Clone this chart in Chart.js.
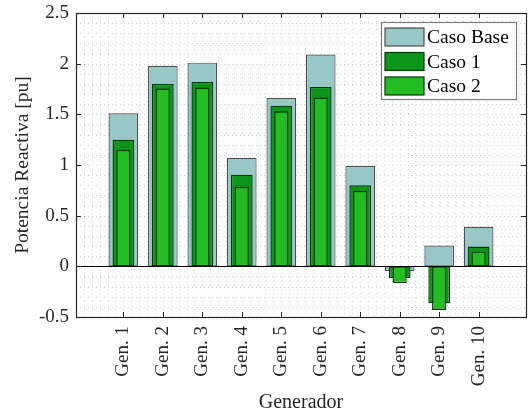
<!DOCTYPE html>
<html>
<head>
<meta charset="utf-8">
<title>Potencia Reactiva por Generador</title>
<script src="https://cdn.jsdelivr.net/npm/chart.js@4.4.1/dist/chart.umd.min.js"></script>
<style>
  html, body { margin: 0; padding: 0; background: #ffffff; }
  #wrap { width: 529px; height: 415px; }
</style>
</head>
<body>
<div id="wrap"><canvas id="chart" width="529" height="415"></canvas></div>
<script>
// Reactive power per generator [pu]
const generators = ['Gen. 1', 'Gen. 2', 'Gen. 3', 'Gen. 4', 'Gen. 5', 'Gen. 6', 'Gen. 7', 'Gen. 8', 'Gen. 9', 'Gen. 10'];
const casoBase = [1.51, 1.98, 2.01, 1.07, 1.66, 2.09, 0.99, -0.045, 0.205, 0.39];
const caso1    = [1.25, 1.80, 1.82, 0.905, 1.585, 1.77, 0.80, -0.115, -0.365, 0.195];
const caso2    = [1.15, 1.755, 1.765, 0.785, 1.53, 1.665, 0.745, -0.165, -0.43, 0.145];
const yTicks   = [-0.5, 0, 0.5, 1, 1.5, 2, 2.5];
const seriesNames = ['Caso Base', 'Caso 1', 'Caso 2'];

const SERIF = "'Liberation Serif', 'Times New Roman', serif";
const AXIS_COLOR = '#262626';

const toPoints = vals => vals.map((v, i) => ({ x: i + 1, y: v }));

// Axes box, dotted minor grid, inward ticks, zero baseline and the boxed legend
const framePlugin = {
  id: 'frame',
  beforeDatasetsDraw(chart) {
    const { ctx, chartArea: a, scales: { x, y } } = chart;
    ctx.save();
    ctx.beginPath();
    ctx.rect(a.left, a.top, a.right - a.left, a.bottom - a.top);
    ctx.clip();
    ctx.strokeStyle = '#cfcfcf';
    ctx.lineWidth = 1;
    ctx.setLineDash([1, 3]);
    for (let k = Math.ceil(y.min * 10 - 1e-6); k <= Math.floor(y.max * 10 + 1e-6); k++) {
      const py = Math.round(y.getPixelForValue(k / 10)) + 0.5;
      ctx.beginPath(); ctx.moveTo(a.left, py); ctx.lineTo(a.right, py); ctx.stroke();
    }
    for (let k = Math.ceil(x.min * 5 - 1e-6); k <= Math.floor(x.max * 5 + 1e-6); k++) {
      const px = Math.round(x.getPixelForValue(k / 5)) + 0.5;
      ctx.beginPath(); ctx.moveTo(px, a.top); ctx.lineTo(px, a.bottom); ctx.stroke();
    }
    ctx.restore();
  },
  afterDatasetsDraw(chart) {
    const { ctx, chartArea: a, scales: { x, y } } = chart;
    ctx.save();
    // bar baseline at zero
    const y0 = Math.round(y.getPixelForValue(0)) + 0.5;
    ctx.strokeStyle = '#000000';
    ctx.lineWidth = 1;
    ctx.beginPath(); ctx.moveTo(a.left, y0); ctx.lineTo(a.right, y0); ctx.stroke();

    // inward tick marks on all four sides
    const tl = 5;
    ctx.strokeStyle = AXIS_COLOR;
    yTicks.forEach(v => {
      const py = Math.round(y.getPixelForValue(v)) + 0.5;
      ctx.beginPath();
      ctx.moveTo(a.left, py); ctx.lineTo(a.left + tl, py);
      ctx.moveTo(a.right, py); ctx.lineTo(a.right - tl, py);
      ctx.stroke();
    });
    generators.forEach((g, i) => {
      const px = Math.round(x.getPixelForValue(i + 1)) + 0.5;
      ctx.beginPath();
      ctx.moveTo(px, a.bottom); ctx.lineTo(px, a.bottom - tl);
      ctx.moveTo(px, a.top); ctx.lineTo(px, a.top + tl);
      ctx.stroke();
    });

    // axes box
    ctx.lineWidth = 1.2;
    ctx.strokeRect(Math.round(a.left) + 0.5, Math.round(a.top) + 0.5,
                   Math.round(a.right - a.left), Math.round(a.bottom - a.top));
    ctx.restore();
  },
  afterDraw(chart) {
    const { ctx, chartArea: a } = chart;
    const ds = chart.data.datasets;
    const boxW = 135, boxH = 77;
    const bx = a.right - 10 - boxW + 0.5, by = a.top + 9.5;
    ctx.save();
    ctx.fillStyle = '#ffffff';
    ctx.fillRect(bx, by, boxW, boxH);
    ctx.strokeStyle = '#7a7a7a';
    ctx.lineWidth = 1.2;
    ctx.strokeRect(bx, by, boxW, boxH);
    ctx.font = '19.5px ' + SERIF;
    ctx.textBaseline = 'middle';
    ctx.textAlign = 'left';
    seriesNames.forEach((name, i) => {
      const d = ds[i];
      const cy = by + 14.5 + i * 24.5;
      ctx.fillStyle = d.backgroundColor;
      ctx.fillRect(bx + 3.5, cy - 9, 39, 18);
      ctx.strokeStyle = d.borderColor;
      ctx.lineWidth = 1.2;
      ctx.strokeRect(bx + 3.5, cy - 9, 39, 18);
      ctx.fillStyle = '#000000';
      ctx.fillText(name, bx + 45.5, cy + 1);
    });
    ctx.restore();
  }
};

new Chart(document.getElementById('chart'), {
  type: 'bar',
  data: {
    datasets: [
      { label: seriesNames[0], data: toPoints(casoBase), backgroundColor: '#97c8c7', borderColor: '#4d4d4d',
        borderWidth: 1.2, barPercentage: 0.75, order: 3 },
      { label: seriesNames[1], data: toPoints(caso1), backgroundColor: '#0d951a', borderColor: '#083808',
        borderWidth: 1.4, barPercentage: 0.55, order: 2 },
      { label: seriesNames[2], data: toPoints(caso2), backgroundColor: '#23bd23', borderColor: '#083808',
        borderWidth: 1.4, barPercentage: 0.36, order: 1 }
    ]
  },
  options: {
    responsive: false,
    animation: false,
    devicePixelRatio: 1,
    layout: { padding: { top: 13, right: 3, left: 0, bottom: 0 } },
    datasets: { bar: { grouped: false, categoryPercentage: 1, borderSkipped: false } },
    plugins: { legend: { display: false }, tooltip: { enabled: false } },
    scales: {
      x: {
        type: 'linear', min: -0.2, max: 11.2, offset: false,
        grid: { display: false, drawTicks: false }, border: { display: false },
        afterBuildTicks: s => { s.ticks = generators.map((g, i) => ({ value: i + 1 })); },
        ticks: {
          autoSkip: false, minRotation: 90, maxRotation: 90, padding: 9,
          color: AXIS_COLOR, font: { family: SERIF, size: 19 },
          callback: v => generators[Math.round(v) - 1]
        },
        title: { display: true, text: 'Generador', color: AXIS_COLOR,
                 font: { family: SERIF, size: 20 }, padding: { top: 0, bottom: 0 } },
        afterFit: s => { s.height = 98; s.paddingLeft = 0; s.paddingRight = 0; }
      },
      y: {
        min: -0.5, max: 2.5,
        grid: { display: false, drawTicks: false }, border: { display: false },
        afterBuildTicks: s => { s.ticks = yTicks.map(v => ({ value: v })); },
        ticks: {
          padding: 7, color: AXIS_COLOR, font: { family: SERIF, size: 19 },
          callback: v => String(Math.round(v * 10) / 10)
        },
        title: { display: true, text: 'Potencia Reactiva [pu]', color: AXIS_COLOR,
                 font: { family: SERIF, size: 19.5 }, padding: { top: 11, bottom: 0 } },
        afterFit: s => { s.width = 76; s.paddingTop = 0; s.paddingBottom = 0; }
      }
    }
  },
  plugins: [framePlugin]
});
</script>
</body>
</html>
